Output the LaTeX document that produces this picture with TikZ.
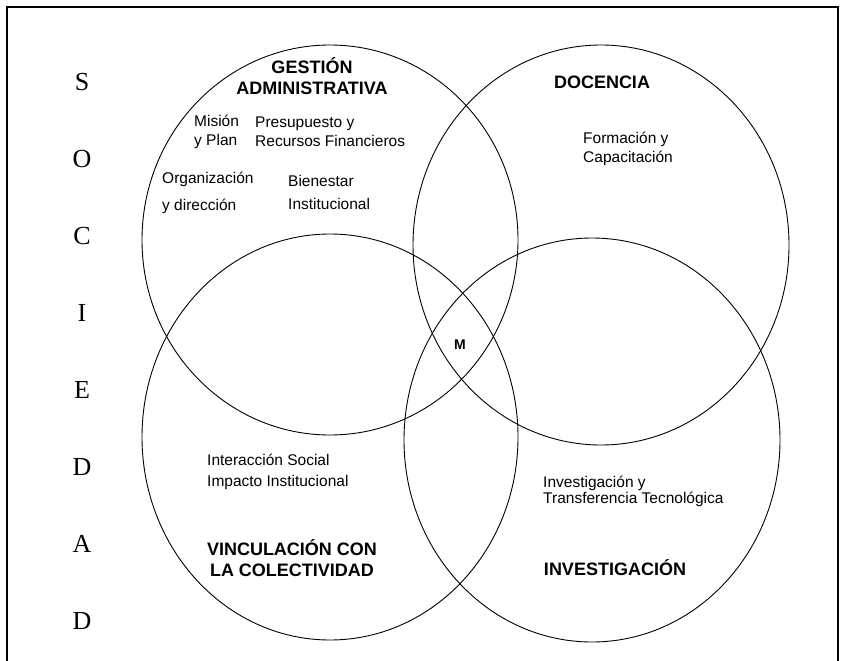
\documentclass[tikz,border=0pt]{standalone}
\usepackage{fontspec}
\setmainfont{Liberation Serif}
\newfontfamily\arial{Liberation Sans}
\begin{document}
\begin{tikzpicture}[x=1pt, y=-1pt,
  circ/.style={line width=0.9pt},
  lbl/.style={font=\arial\fontsize{15.5}{19}\selectfont, inner sep=0pt, align=left, anchor=west},
  ttl/.style={font=\arial\bfseries\fontsize{18}{21}\selectfont, inner sep=0pt, align=center}]
\useasboundingbox (0,0) rectangle (846,661);
\draw[line width=1.2pt] (7,661) -- (7,7) -- (838,7) -- (838,661);
% the four areas
\draw[circ] (330,240) ellipse [x radius=188, y radius=195];
\draw[circ] (601,245) ellipse [x radius=188, y radius=200];
\draw[circ] (330,437) ellipse [x radius=188, y radius=203];
\draw[circ] (592,440) ellipse [x radius=188, y radius=202];
% sociedad
\foreach \l [count=\i] in {S,O,C,I,E,D,A,D}
  \node[font=\fontsize{26}{26}\selectfont] (soc\i) at (82,5+77*\i) {\l};
\node[ttl] (gest) at (312,76) {GESTIÓN\\ADMINISTRATIVA};
\node[ttl] (doc) at (602,82) {DOCENCIA};
\node[ttl] (vinc) at (292,558) {VINCULACIÓN CON\\LA COLECTIVIDAD};
\node[ttl] (inv) at (615,568) {INVESTIGACIÓN};
\node[ttl, font=\arial\bfseries\fontsize{14}{16}\selectfont] (m) at (460,345) {M};
\node[lbl] (mision) at (194,132) {Misión\\y Plan};
\node[lbl] (presup) at (255,132) {Presupuesto y\\Recursos Financieros};
\node[lbl] (organiz) at (162,193) {Organización\\[8pt]y dirección};
\node[lbl] (bienestar) at (288,192) {Bienestar\\[4pt]Institucional};
\node[lbl] (formacion) at (583,149) {Formación y\\Capacitación};
\node[lbl] (interacc) at (207,472) {Interacción Social\\[2pt]Impacto Institucional};
\node[lbl, font=\arial\fontsize{15.5}{16}\selectfont] (investig) at (543,491) {Investigación y\\Transferencia Tecnológica};
\end{tikzpicture}
\end{document}
